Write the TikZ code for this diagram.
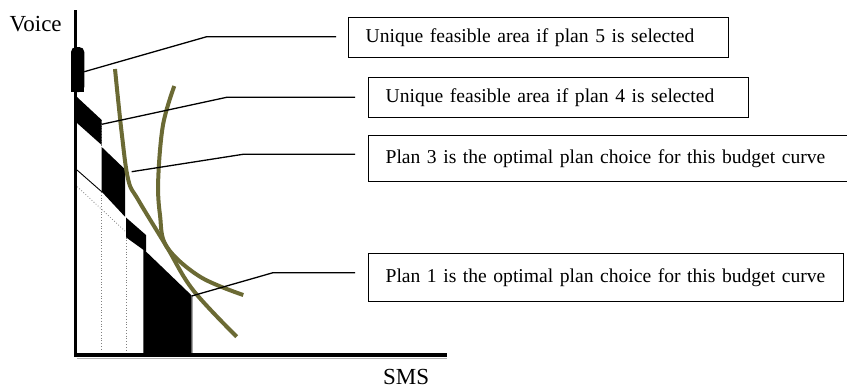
\documentclass[tikz,border=0pt]{standalone}
\usepackage{fontspec}
\setmainfont{Liberation Serif}
\definecolor{olivecurve}{RGB}{107,106,52}
\begin{document}
\begin{tikzpicture}[x=1pt,y=-1pt,
  callbox/.style={draw=black,line width=1.2pt,anchor=north west,inner xsep=17pt,inner ysep=0pt,
    align=left,font=\fontsize{19.6}{22}\selectfont},
  axislabel/.style={anchor=base west,inner sep=0pt,font=\fontsize{23}{26}\selectfont},
  callout/.style={line width=1.3pt},
  curve/.style={olivecurve,line width=4pt},
  dotline/.style={gray,dotted,line width=0.8pt}]
\useasboundingbox (0,0) rectangle (847,389);

% labels
\node[axislabel] (voice) at (9.5,31.7) {Voice};
\node[axislabel] (sms) at (383,384) {SMS};

% boxes
\node[callbox,minimum height=39.5pt,text width=346pt] (b5) at (348,17) {Unique feasible area if plan 5 is selected};
\node[callbox,minimum height=40pt,text width=346pt] (b4) at (368,77) {Unique feasible area if plan 4 is selected};
\begin{scope}
\clip (0,0) rectangle (847,389);
\node[callbox,minimum height=46.5pt,text width=470pt] (b3) at (368,134.5) {Plan 3 is the optimal plan choice for this budget curve};
\end{scope}
\node[callbox,minimum height=47.5pt,text width=441pt] (b1) at (368,253) {Plan 1 is the optimal plan choice for this budget curve};

% dotted guides
\draw[dotline] (101.7,120) -- (101.7,147);
\draw[dotline] (101.7,192) -- (101.7,350);
\draw[dotline] (126,232) -- (126,350);
\draw[dotline] (77.3,186.7) -- (126,232);

% feasible areas
\fill[black] (77,97) -- (101.7,120) -- (101.7,145) -- (77,123) -- cycle;
\fill[black] (101.7,147) -- (125,169.3) -- (125,216.7) -- (101.7,191.7) -- cycle;
\fill[black] (126,217.5) -- (146,235) -- (146,251.7) -- (126,237.3) -- cycle;
\fill[black] (143.3,249) -- (191.7,295.5) -- (191.7,355) -- (143.3,355) -- cycle;
\draw[black,line width=0.9pt] (77,170) -- (101.7,191.7);
\draw[gray!70,line width=0.8pt] (192.5,296) -- (192.5,356);

% axes
\draw[line width=3pt] (75.5,10) -- (75.5,356);
\draw[gray!60,line width=1pt] (77,358) -- (447,358);
\draw[line width=4pt] (74,355) -- (447,355);

% plan 5 bar
\fill[black,rounded corners=5pt] (71,47) rectangle (84.3,92);
\fill[black] (71,62) rectangle (84.3,92);

% budget curves
\draw[curve] plot[smooth,tension=0.6] coordinates {(115,69) (121.7,133) (128.3,180) (138.3,200) (166.7,246.7) (193,290) (236.7,336.7)};
\draw[curve] plot[smooth,tension=0.6] coordinates {(174.3,86) (163,125) (158.2,180) (160,215) (166.7,246.7) (200,276.7) (243.3,295)};

% callout points
\coordinate (p5) at (84.3,71.7);
\coordinate (e5) at (206.7,36.7);
\coordinate (t5) at (336,36.7);
\coordinate (p4) at (101.7,124.3);
\coordinate (e4) at (226.7,97.3);
\coordinate (t4) at (355,97.3);
\coordinate (p3) at (131.7,171.7);
\coordinate (e3) at (243,154.3);
\coordinate (t3) at (355,154.3);
\coordinate (p1) at (191.7,296);
\coordinate (e1) at (273,272.7);
\coordinate (t1) at (355,272.7);
\draw[callout] (p5) -- (e5) -- (t5);
\draw[callout] (p4) -- (e4) -- (t4);
\draw[callout] (p3) -- (e3) -- (t3);
\draw[callout] (p1) -- (e1) -- (t1);
\end{tikzpicture}
\end{document}
